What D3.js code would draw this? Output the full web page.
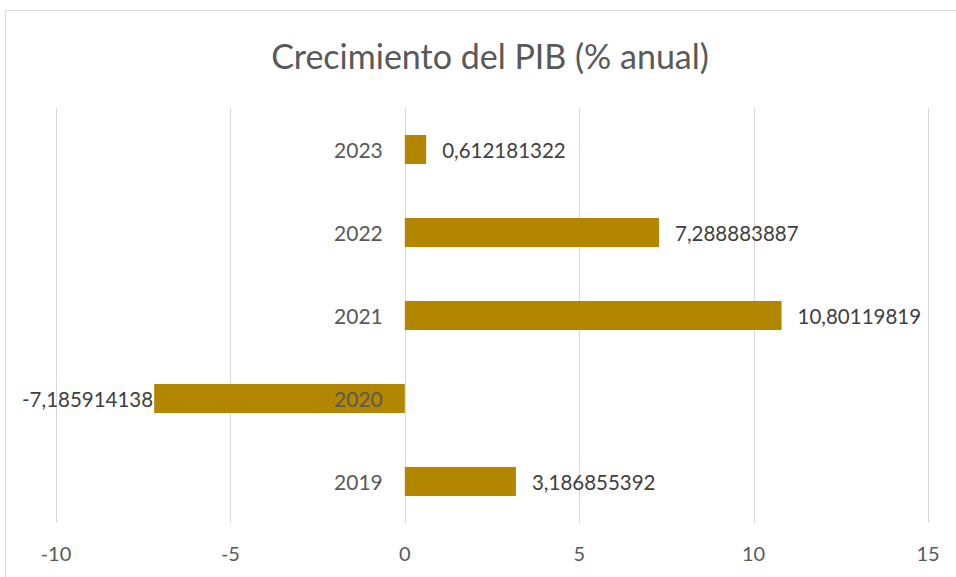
<!DOCTYPE html>
<html><head><meta charset="utf-8">
<script src="https://cdn.jsdelivr.net/npm/d3@7"></script>
<style>body{margin:0;background:#fff}svg{display:block}</style>
</head><body>
<svg id="c" width="956" height="577"></svg>
<script>
const title = "Crecimiento del PIB (% anual)";
const years = ["2019", "2020", "2021", "2022", "2023"];
const values = [3.186855392, -7.185914138, 10.80119819, 7.288883887, 0.612181322];
const labels = ["3,186855392", "-7,185914138", "10,80119819", "7,288883887", "0,612181322"];
const xTicks = [-10, -5, 0, 5, 10, 15];

const svg = d3.select("#c");
const font = "Lato, 'Open Sans', sans-serif";
svg.append("rect").attr("x",0).attr("y",0).attr("width",956).attr("height",577).attr("fill","#fff");
svg.append("rect").attr("x",5.5).attr("y",10.5).attr("width",1000).attr("height",700)
  .attr("fill","none").attr("stroke","#d9d9d9");

const x = d3.scaleLinear().domain([-10,15]).range([56,928]);
const y = d3.scaleBand().domain(years.slice().reverse()).range([108,523]).paddingInner(0.65).paddingOuter(0.325);

svg.append("g").selectAll("line").data(xTicks).join("line")
  .attr("x1",d=>Math.round(x(d))+0.5).attr("x2",d=>Math.round(x(d))+0.5)
  .attr("y1",108).attr("y2",523).attr("stroke","#d9d9d9").attr("stroke-width",1);

svg.append("g").selectAll("text").data(xTicks).join("text")
  .attr("x",d=>x(d)).attr("y",561).attr("text-anchor","middle")
  .attr("font-family",font).attr("font-size",20).attr("fill","#595959").text(d=>d);

svg.append("text").attr("x",490).attr("y",69).attr("text-anchor","middle")
  .attr("font-family",font).attr("font-size",34).attr("fill","#595959").text(title);

const data = years.map((yr,i)=>({yr, v:values[i], l:labels[i]}));

svg.append("g").selectAll("rect").data(data).join("rect")
  .attr("x",d=>x(Math.min(0,d.v))).attr("width",d=>Math.abs(x(d.v)-x(0)))
  .attr("y",d=>y(d.yr)).attr("height",y.bandwidth()).attr("fill","#b38600");

svg.append("g").selectAll("text").data(data).join("text")
  .attr("x",x(0)-22).attr("y",d=>y(d.yr)+y.bandwidth()/2+1).attr("dy","0.35em")
  .attr("text-anchor","end").attr("font-family",font).attr("font-size",21).attr("fill","#595959").text(d=>d.yr);

svg.append("g").selectAll("text").data(data).join("text")
  .attr("x",d=>d.v>=0 ? x(d.v)+16 : x(d.v)-1)
  .attr("y",d=>y(d.yr)+y.bandwidth()/2+1).attr("dy","0.35em")
  .attr("text-anchor",d=>d.v>=0?"start":"end")
  .attr("font-family",font).attr("font-size",20.5).attr("fill","#404040").text(d=>d.l);
</script>
</body></html>
